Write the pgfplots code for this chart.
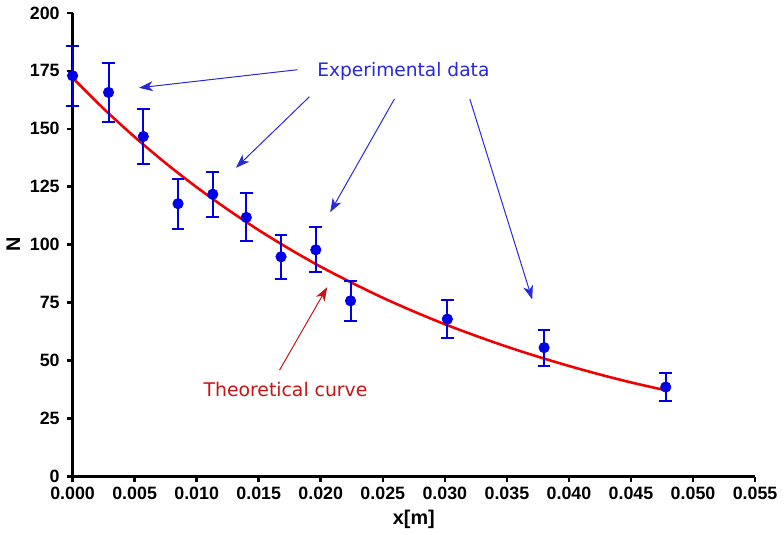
\documentclass[border=0pt]{standalone}
\usepackage{fontspec}
\setmainfont{Liberation Sans}
\newfontfamily\annot{DejaVu Sans}
\usepackage{pgfplots}
\pgfplotsset{compat=1.18}
\usetikzlibrary{arrows.meta}
\definecolor{expblue}{RGB}{0,0,230}
\definecolor{annblue}{RGB}{40,40,220}
\definecolor{curvered}{RGB}{240,0,0}
\definecolor{annred}{RGB}{200,20,20}

\pgfplotstableread{
x       N      e
0.0000  172.9  13.0
0.0029  165.7  12.9
0.0057  146.7  11.8
0.0085  117.7  10.8
0.0113  121.8   9.7
0.0140  111.8  10.3
0.0168   94.8   9.5
0.0196   97.8   9.7
0.0224   75.8   8.6
0.0302   67.9   8.1
0.0380   55.6   7.8
0.0478   38.6   6.1
}\expdata

\pgfplotstableread{
x       N
0.0000  172.0
0.0025  158.7
0.0050  146.5
0.0075  135.2
0.0100  124.8
0.0125  115.2
0.0150  106.3
0.0175   98.1
0.0200   90.5
0.0225   83.6
0.0250   77.1
0.0275   71.2
0.0300   65.7
0.0325   60.7
0.0350   56.0
0.0375   51.7
0.0400   47.7
0.0425   44.0
0.0450   40.6
0.0478   37.2
}\curvedata

\begin{document}
\begin{tikzpicture}
\begin{axis}[
  scale only axis,
  width=344.5pt, height=234pt,
  xmin=0, xmax=0.055, ymin=0, ymax=200,
  axis lines=left,
  axis line style={line width=1.5pt, -},
  xtick={0,0.005,...,0.055},
  ytick={0,25,...,200},
  tick align=outside,
  major tick length=3pt,
  tick style={line width=1.3pt, black},
  xticklabel={\pgfmathprintnumber[fixed,fixed zerofill,precision=3]{\tick}},
  scaled x ticks=false,
  /pgf/number format/assume math mode=true,
  tick label style={font=\fontsize{9}{10}\selectfont\bfseries},
  xticklabel style={yshift=1pt},
  xlabel={x[m]}, ylabel={N},
  label style={font=\fontsize{10}{11}\selectfont\bfseries},
  xlabel style={yshift=2pt},
  ylabel style={yshift=-2pt},
  clip=false,
]
\addplot[curvered, line width=1.3pt, smooth, no markers] table[x=x,y=N] {\curvedata};
\addplot[expblue, only marks, mark=*, mark size=2.6pt,
  error bars/.cd, y dir=both, y explicit,
  error bar style={line width=1pt, expblue},
  error mark options={rotate=90, mark size=3.2pt, line width=1pt, expblue}]
  table[x=x,y=N,y error=e] {\expdata};

\node[annblue, font=\annot\fontsize{9.4}{10}\selectfont] at (axis cs:0.02666,174.7) {Experimental data};
\draw[annblue, line width=0.5pt, -{Stealth[length=7pt,width=5pt,inset=2pt]}] (axis cs:0.01812,175.5) -- (axis cs:0.00535,167.7);
\draw[annblue, line width=0.5pt, -{Stealth[length=7pt,width=5pt,inset=2pt]}] (axis cs:0.01908,163.8) -- (axis cs:0.01317,133.2);
\draw[annblue, line width=0.5pt, -{Stealth[length=7pt,width=5pt,inset=2pt]}] (axis cs:0.02594,162.9) -- (axis cs:0.02076,114.0);
\draw[annblue, line width=0.5pt, -{Stealth[length=7pt,width=5pt,inset=2pt]}] (axis cs:0.03201,162.9) -- (axis cs:0.03704,76.4);

\node[annred, font=\annot\fontsize{9.5}{10}\selectfont] at (axis cs:0.01716,37.6) {Theoretical curve};
\draw[annred, line width=0.5pt, -{Stealth[length=7pt,width=5pt,inset=2pt]}] (axis cs:0.01668,45.9) -- (axis cs:0.02052,81.7);
\end{axis}
\end{tikzpicture}
\end{document}
